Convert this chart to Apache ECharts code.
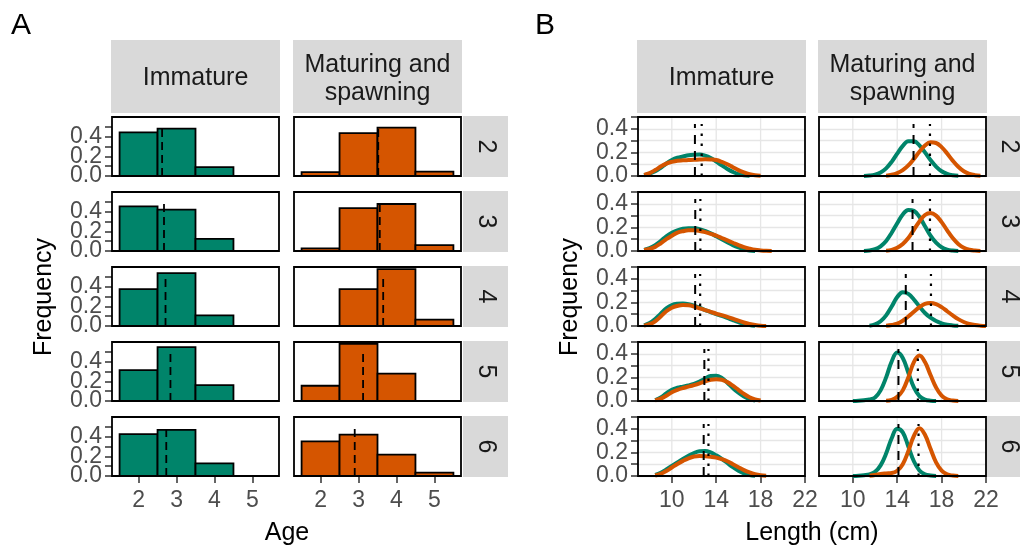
<!DOCTYPE html>
<html>
<head>
<meta charset="utf-8">
<script src="https://cdn.jsdelivr.net/npm/echarts@6/dist/echarts.min.js"></script>
<style>
  html, body { margin: 0; padding: 0; background: #fff; }
  #chart { width: 1020px; height: 547px; }
</style>
</head>
<body>
<div id="chart"></div>
<script>
const n = null;

// facets
const facetRows = ['2', '3', '4', '5', '6'];
const stageNames = ['Immature', 'Maturing and\nspawning'];

// panel A: age frequency
const ageBins = [2, 3, 4, 5];
const ageImmature = [
  [0.444, 0.481, 0.091, 0],
  [0.454, 0.420, 0.124, 0],
  [0.376, 0.538, 0.108, 0],
  [0.313, 0.547, 0.161, 0],
  [0.426, 0.470, 0.128, 0]
];
const ageMaturing = [
  [0.040, 0.437, 0.492, 0.044],
  [0.026, 0.437, 0.478, 0.060],
  [0, 0.376, 0.578, 0.064],
  [0.155, 0.581, 0.279, 0],
  [0.353, 0.420, 0.218, 0.034]
];
const ageMeanImmature = [2.62, 2.67, 2.71, 2.84, 2.73];
const ageMeanMaturing = [3.52, 3.56, 3.65, 3.12, 2.90];
const ageTicks = [2, 3, 4, 5];

// panel B: length density
const lengthGrid = [7, 7.5, 8, 8.5, 9, 9.5, 10, 10.5, 11, 11.5, 12, 12.5, 13, 13.5, 14, 14.5,
  15, 15.5, 16, 16.5, 17, 17.5, 18, 18.5, 19, 19.5, 20, 20.5, 21, 21.5, 22];
const immGreen = [
  [n, 0.005, 0.02, 0.04, 0.07, 0.105, 0.135, 0.155, 0.165, 0.175, 0.18, 0.182, 0.172, 0.152, 0.122, 0.09, 0.06, 0.035, 0.016, 0.006, 0.002, n, n, n, n, n, n, n, n, n, n],
  [n, 0.01, 0.025, 0.05, 0.085, 0.125, 0.155, 0.175, 0.188, 0.193, 0.192, 0.185, 0.17, 0.15, 0.125, 0.1, 0.075, 0.05, 0.03, 0.015, 0.005, 0.001, n, n, n, n, n, n, n, n, n],
  [n, 0.005, 0.025, 0.06, 0.105, 0.15, 0.178, 0.188, 0.19, 0.185, 0.172, 0.155, 0.135, 0.118, 0.1, 0.085, 0.068, 0.05, 0.033, 0.018, 0.008, 0.002, n, n, n, n, n, n, n, n, n],
  [n, n, n, 0.008, 0.03, 0.065, 0.095, 0.112, 0.122, 0.132, 0.145, 0.165, 0.19, 0.212, 0.215, 0.195, 0.155, 0.11, 0.07, 0.038, 0.016, 0.005, n, n, n, n, n, n, n, n, n],
  [n, n, n, 0.01, 0.028, 0.055, 0.085, 0.115, 0.145, 0.172, 0.195, 0.21, 0.212, 0.2, 0.175, 0.145, 0.11, 0.075, 0.045, 0.022, 0.008, 0.002, n, n, n, n, n, n, n, n, n]
];
const immOrange = [
  [n, 0.01, 0.025, 0.05, 0.08, 0.105, 0.12, 0.13, 0.133, 0.135, 0.137, 0.14, 0.142, 0.14, 0.135, 0.12, 0.1, 0.075, 0.05, 0.03, 0.015, 0.006, 0.002, n, n, n, n, n, n, n, n],
  [n, 0.008, 0.018, 0.035, 0.065, 0.1, 0.13, 0.155, 0.168, 0.175, 0.175, 0.17, 0.16, 0.145, 0.13, 0.11, 0.09, 0.07, 0.05, 0.033, 0.02, 0.01, 0.005, 0.002, 0.001, n, n, n, n, n, n],
  [n, 0.003, 0.015, 0.04, 0.08, 0.125, 0.155, 0.17, 0.177, 0.175, 0.165, 0.15, 0.135, 0.12, 0.105, 0.092, 0.078, 0.062, 0.045, 0.03, 0.018, 0.009, 0.003, 0.001, n, n, n, n, n, n, n],
  [n, n, n, 0.005, 0.02, 0.045, 0.075, 0.095, 0.11, 0.122, 0.135, 0.15, 0.167, 0.18, 0.185, 0.18, 0.16, 0.13, 0.095, 0.06, 0.032, 0.014, 0.004, n, n, n, n, n, n, n, n],
  [n, n, n, 0.004, 0.018, 0.042, 0.072, 0.102, 0.128, 0.15, 0.165, 0.17, 0.168, 0.163, 0.156, 0.143, 0.125, 0.1, 0.075, 0.05, 0.03, 0.015, 0.006, 0.002, n, n, n, n, n, n, n]
];
const matGreen = [
  [n, n, n, n, n, n, n, n, 0.001, 0.004, 0.012, 0.03, 0.065, 0.12, 0.19, 0.255, 0.295, 0.295, 0.26, 0.2, 0.135, 0.08, 0.04, 0.017, 0.006, 0.002, n, n, n, n, n],
  [n, n, n, n, n, n, n, n, 0.001, 0.005, 0.015, 0.04, 0.085, 0.155, 0.235, 0.31, 0.348, 0.34, 0.29, 0.21, 0.13, 0.07, 0.032, 0.012, 0.004, 0.001, n, n, n, n, n],
  [n, n, n, n, n, n, n, n, n, 0.003, 0.013, 0.04, 0.09, 0.165, 0.245, 0.287, 0.272, 0.225, 0.165, 0.11, 0.07, 0.042, 0.023, 0.011, 0.005, 0.002, n, n, n, n, n],
  [n, n, n, n, n, n, 0.001, 0.003, 0.007, 0.013, 0.03, 0.09, 0.2, 0.335, 0.41, 0.365, 0.24, 0.115, 0.042, 0.012, 0.003, 0.001, n, n, n, n, n, n, n, n, n],
  [n, n, n, n, n, n, 0.001, 0.003, 0.007, 0.014, 0.035, 0.09, 0.19, 0.32, 0.4, 0.37, 0.25, 0.125, 0.047, 0.014, 0.004, 0.001, n, n, n, n, n, n, n, n, n]
];
const matOrange = [
  [n, n, n, n, n, n, n, n, n, n, n, n, 0.003, 0.01, 0.025, 0.05, 0.09, 0.145, 0.205, 0.258, 0.285, 0.28, 0.245, 0.19, 0.13, 0.078, 0.04, 0.018, 0.007, 0.002, n],
  [n, n, n, n, n, n, n, n, n, n, n, n, 0.003, 0.01, 0.028, 0.06, 0.11, 0.18, 0.25, 0.305, 0.322, 0.3, 0.245, 0.175, 0.11, 0.06, 0.028, 0.011, 0.004, 0.001, n],
  [n, n, n, n, n, n, n, n, n, n, n, n, 0.002, 0.008, 0.02, 0.045, 0.08, 0.12, 0.16, 0.188, 0.195, 0.185, 0.16, 0.125, 0.09, 0.058, 0.034, 0.018, 0.008, 0.003, 0.001],
  [n, n, n, n, n, n, n, n, n, n, n, n, 0.002, 0.01, 0.035, 0.09, 0.2, 0.33, 0.385, 0.33, 0.22, 0.115, 0.045, 0.014, 0.004, 0.001, n, n, n, n, n],
  [n, n, n, n, n, n, n, n, n, 0.002, 0.008, 0.018, 0.022, 0.025, 0.045, 0.1, 0.21, 0.34, 0.405, 0.35, 0.23, 0.115, 0.045, 0.014, 0.004, 0.001, n, n, n, n, n]
];
const lenMeanImmGreen = [12.08, 12.11, 12.1, 12.93, 12.87];
const lenMeanImmOrange = [12.69, 12.57, 12.55, 13.3, 13.3];
const lenMeanMatGreen = [15.47, 15.38, 14.77, 14.11, 14.11];
const lenMeanMatOrange = [16.95, 16.95, 17.04, 15.86, 15.92];
const lengthTicks = [10, 14, 18, 22];
const lengthGridLines = [10, 14, 18];

const freqTicks = [0, 0.1, 0.2, 0.3, 0.4, 0.5];
const freqLabelsOuter = [0, 0.4];
const freqLabelsMid = [0.2];

// layout
const GREEN = '#00846A';
const ORANGE = '#D55500';
const FONT = '"Liberation Sans", Arial, sans-serif';
const rowTop = [117, 192, 267, 342, 417];
const panelH = 59;
const colLeftA = [112, 294];
const colLeftB = [638, 819];
const panelW = 167;
const binWidth = 1;

let chart = echarts.init(document.getElementById('chart'), null, { renderer: 'canvas' });

let grids = [], xAxes = [], yAxes = [], extraYAxes = [], series = [], graphics = [];

function yLabelAxis(idx, yopt, labels, withTicks) {
  return {
    gridIndex: idx, type: 'value', position: 'left', offset: 0,
    min: 0, max: yopt.max, interval: 0.1,
    axisLine: { show: false },
    splitLine: { show: withTicks && !!yopt.grid, lineStyle: { color: '#E6E6E6', width: 1.3 } },
    axisTick: { show: withTicks, length: 7, lineStyle: { color: '#333', width: 1.5 }, customValues: freqTicks },
    axisLabel: {
      show: true, customValues: labels, hideOverlap: false,
      fontSize: 23, color: '#4D4D4D', margin: 10, fontFamily: FONT,
      formatter: v => v.toFixed(1)
    }
  };
}

function addPanel(left, top, r, c, xopt, yopt) {
  let idx = grids.length;
  grids.push({ left: left, top: top, width: panelW, height: panelH });
  // panel border drawn on top of everything
  graphics.push({
    type: 'rect', z: 15, silent: true,
    shape: { x: left, y: top, width: panelW, height: panelH },
    style: { fill: null, stroke: '#000', lineWidth: 1.8 }
  });
  let bottom = r === facetRows.length - 1;
  xAxes.push({
    gridIndex: idx, type: 'value', min: xopt.min, max: xopt.max,
    axisLine: { show: false }, splitLine: { show: false },
    axisTick: { show: bottom, length: 7, lineStyle: { color: '#333', width: 1.5 }, customValues: xopt.ticks },
    axisLabel: {
      show: bottom, customValues: xopt.ticks, hideOverlap: false,
      fontSize: 23, color: '#4D4D4D', margin: 13, fontFamily: FONT
    }
  });
  let ya = yLabelAxis(idx, yopt, freqLabelsOuter, c === 0);
  if (c !== 0) {
    ya.axisLabel.show = false;
    ya.axisTick.show = false;
    ya.splitLine.show = !!yopt.grid;
  } else {
    // middle label on its own axis so the tight labels are all kept
    extraYAxes.push(yLabelAxis(idx, yopt, freqLabelsMid, false));
  }
  yAxes.push(ya);
  return idx;
}

function vSegment(idx, x, yTop, dash, width) {
  return {
    type: 'line', xAxisIndex: idx, yAxisIndex: idx, silent: true, animation: false,
    symbol: 'none', z: 6, data: [[x, 0], [x, yTop]],
    lineStyle: { color: '#000', width: width, type: dash }
  };
}

// ---- panel A: histograms
for (let r = 0; r < facetRows.length; r++) {
  for (let c = 0; c < 2; c++) {
    let idx = addPanel(colLeftA[c], rowTop[r], r, c, { min: 1.3, max: 5.7, ticks: ageTicks }, { max: 0.6 });
    let vals = c === 0 ? ageImmature[r] : ageMaturing[r];
    let color = c === 0 ? GREEN : ORANGE;
    series.push({
      type: 'custom', xAxisIndex: idx, yAxisIndex: idx, silent: true, animation: false, z: 3,
      data: ageBins.map((a, i) => [a, vals[i]]),
      renderItem: function (params, api) {
        let h = api.value(1);
        if (!h) return null;
        let tl = api.coord([api.value(0) - binWidth / 2, h]);
        let br = api.coord([api.value(0) + binWidth / 2, 0]);
        return {
          type: 'rect',
          shape: { x: tl[0], y: tl[1], width: br[0] - tl[0], height: br[1] - tl[1] },
          style: { fill: color, stroke: '#000', lineWidth: 1.8 }
        };
      }
    });
    let m = c === 0 ? ageMeanImmature[r] : ageMeanMaturing[r];
    series.push(vSegment(idx, m, 0.5, [8, 5], 1.8));
  }
}

// ---- panel B: densities
for (let r = 0; r < facetRows.length; r++) {
  for (let c = 0; c < 2; c++) {
    let idx = addPanel(colLeftB[c], rowTop[r], r, c, { min: 6.95, max: 22, ticks: lengthTicks }, { max: 0.5, grid: true });
    // vertical grid lines
    series.push({
      type: 'custom', xAxisIndex: idx, yAxisIndex: idx, silent: true, animation: false, z: 1,
      data: lengthGridLines,
      renderItem: function (params, api) {
        let p0 = api.coord([api.value(0), 0]);
        let p1 = api.coord([api.value(0), 0.5]);
        return {
          type: 'line', shape: { x1: p0[0], y1: p0[1], x2: p1[0], y2: p1[1] },
          style: { stroke: '#E6E6E6', lineWidth: 1.3 }
        };
      }
    });
    let g = c === 0 ? immGreen[r] : matGreen[r];
    let o = c === 0 ? immOrange[r] : matOrange[r];
    [[g, GREEN], [o, ORANGE]].forEach(function (pair) {
      series.push({
        type: 'line', xAxisIndex: idx, yAxisIndex: idx, silent: true, animation: false,
        smooth: 0.4, symbol: 'none', z: 4,
        data: lengthGrid.map((x, i) => [x, pair[0][i]]).filter(d => d[1] !== null),
        lineStyle: { color: pair[1], width: 4 }
      });
    });
    let mg = c === 0 ? lenMeanImmGreen[r] : lenMeanMatGreen[r];
    let mo = c === 0 ? lenMeanImmOrange[r] : lenMeanMatOrange[r];
    series.push(vSegment(idx, mg, 0.44, [9, 7], 2));
    series.push(vSegment(idx, mo, 0.44, [2.5, 7.5], 2.2));
  }
}

// ---- strips and titles
function stripText(text, x, y, rot, size) {
  return {
    type: 'text', x: x, y: y, rotation: rot || 0, z: 20,
    style: {
      text: text, fill: '#1A1A1A', font: (size || 25) + 'px ' + FONT,
      textAlign: 'center', textVerticalAlign: 'middle', lineHeight: 28
    }
  };
}
[colLeftA, colLeftB].forEach(function (cols) {
  cols.forEach(function (left, c) {
    graphics.push({ type: 'rect', z: 10, shape: { x: left - 1, y: 40, width: panelW + 2, height: 73 }, style: { fill: '#D9D9D9' } });
    graphics.push(stripText(stageNames[c], left + panelW / 2, c === 0 ? 78 : 79));
  });
});
[[463, 45], [986, 46]].forEach(function (s) {
  rowTop.forEach(function (top, r) {
    graphics.push({ type: 'rect', z: 10, shape: { x: s[0], y: top - 1, width: s[1], height: panelH + 2 }, style: { fill: '#D9D9D9' } });
    graphics.push(stripText(facetRows[r], s[0] + s[1] / 2, top + panelH / 2, -Math.PI / 2, 25));
  });
});
function title(text, x, y, rot, size) {
  return {
    type: 'text', x: x, y: y, rotation: rot || 0, z: 20,
    style: { text: text, fill: '#000', font: (size || 25) + 'px ' + FONT, textAlign: 'center', textVerticalAlign: 'middle' }
  };
}
graphics.push(title('A', 21, 26, 0, 30));
graphics.push(title('B', 545, 26, 0, 30));
graphics.push(title('Frequency', 44, 297, Math.PI / 2));
graphics.push(title('Frequency', 570, 297, Math.PI / 2));
graphics.push(title('Age', 287, 533));
graphics.push(title('Length (cm)', 812, 533));

chart.setOption({
  animation: false,
  backgroundColor: '#fff',
  grid: grids,
  xAxis: xAxes,
  yAxis: yAxes.concat(extraYAxes),
  series: series,
  graphic: graphics
});
</script>
</body>
</html>
